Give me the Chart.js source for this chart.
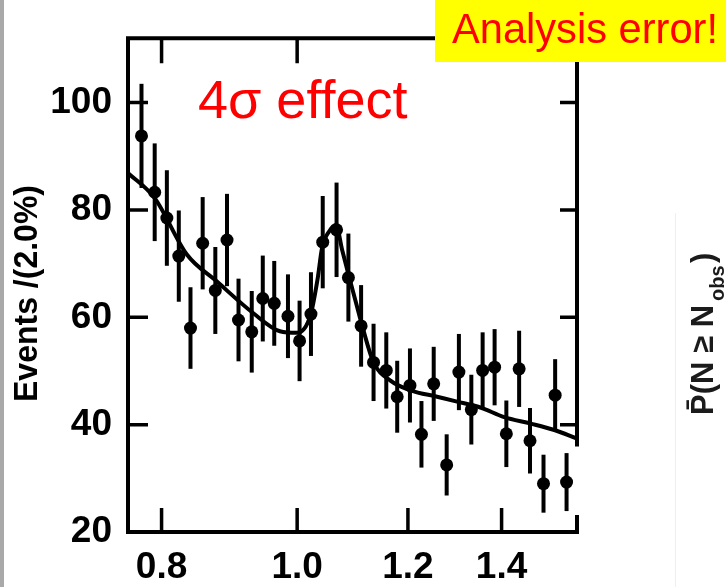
<!DOCTYPE html>
<html><head><meta charset="utf-8">
<script src="https://cdn.jsdelivr.net/npm/chart.js@4/dist/chart.umd.min.js"></script>
<style>html,body{margin:0;padding:0;background:#fff;overflow:hidden}canvas{display:block}</style>
</head><body>
<canvas id="c" width="726" height="587"></canvas>
<script>
// ---- data ----
const xTickValues = [0.8, 1.0, 1.2, 1.4];
const yTickValues = [20, 40, 60, 80, 100];
const sideTickValues = [40, 60, 80, 100];
const topTickValues = [0.8, 1.0];
const massBins = [0.774, 0.791, 0.807, 0.823, 0.839, 0.856, 0.874, 0.891, 0.908, 0.928,
  0.945, 0.963, 0.985, 1.004, 1.023, 1.043, 1.067, 1.088, 1.111, 1.134,
  1.158, 1.179, 1.204, 1.227, 1.252, 1.279, 1.305, 1.332, 1.357, 1.384,
  1.411, 1.441, 1.467, 1.500, 1.529, 1.558];
const events = [93.8, 83.3, 78.5, 71.4, 58.0, 73.8, 65.0, 74.4, 59.5, 57.3,
  63.5, 62.6, 60.2, 55.6, 60.6, 74.0, 76.3, 67.4, 58.4, 51.6,
  50.1, 45.2, 47.3, 38.2, 47.6, 32.5, 49.8, 42.8, 50.1, 50.7,
  38.3, 50.4, 37.0, 29.0, 45.5, 29.3];
const errors = [9.7, 9.1, 8.9, 8.5, 7.6, 8.6, 8.1, 8.6, 7.7, 7.6,
  8.0, 7.9, 7.8, 7.5, 7.8, 8.6, 8.8, 8.2, 7.6, 7.2,
  7.1, 6.7, 6.9, 6.2, 6.9, 5.7, 7.1, 6.5, 7.1, 7.1,
  6.2, 7.1, 6.1, 5.4, 6.7, 5.4];
const fitMass = [0.757, 0.791, 0.834, 0.876, 0.930, 0.972, 1.000, 1.022, 1.034, 1.042,
  1.054, 1.066, 1.077, 1.088, 1.101, 1.113, 1.134, 1.166, 1.205, 1.259,
  1.301, 1.352, 1.406, 1.469, 1.527, 1.585];
const fitEvents = [86.9, 82.2, 71.7, 66.7, 60.8, 57.4, 57.1, 60.3, 67.0, 73.0,
  76.0, 77.2, 72.5, 68.0, 63.0, 58.4, 51.6, 48.2, 46.4, 45.2,
  44.3, 43.2, 41.4, 40.2, 39.0, 37.4];
const annotation = "4σ effect";
const bannerText = "Analysis error!";
const yTitle = "Events /(2.0%)";

const tickFont = {family: "'Liberation Sans', Arial, sans-serif", size: 37, weight: 'bold'};

const decor = {
  id: 'decor',
  beforeDraw(chart) {
    const ctx = chart.ctx;
    ctx.save();
    ctx.fillStyle = '#fff';
    ctx.fillRect(0, 0, chart.width, chart.height);
    ctx.fillStyle = '#a9a9a9';
    ctx.fillRect(0, 0, 4, chart.height);
    ctx.strokeStyle = '#efefef';
    ctx.lineWidth = 1;
    ctx.beginPath(); ctx.moveTo(675.5, 213); ctx.lineTo(675.5, 587); ctx.stroke();
    ctx.restore();
  },
  beforeDatasetsDraw(chart) {
    const ctx = chart.ctx, xs = chart.scales.x, ys = chart.scales.y;
    ctx.save();
    ctx.strokeStyle = '#000';
    ctx.lineWidth = 4;
    ctx.lineCap = 'butt';
    massBins.forEach((m, i) => {
      const px = xs.getPixelForValue(m);
      ctx.beginPath();
      ctx.moveTo(px, ys.getPixelForValue(events[i] + errors[i]));
      ctx.lineTo(px, ys.getPixelForValue(events[i] - errors[i]));
      ctx.stroke();
    });
    ctx.restore();
  },
  afterDraw(chart) {
    const ctx = chart.ctx, xs = chart.scales.x, ys = chart.scales.y, a = chart.chartArea;
    ctx.save();
    ctx.strokeStyle = '#000';
    ctx.lineWidth = 4;
    ctx.lineCap = 'square';
    ctx.beginPath();
    ctx.moveTo(a.left, a.top); ctx.lineTo(a.left, a.bottom); ctx.lineTo(a.right, a.bottom);
    ctx.moveTo(a.left, a.top); ctx.lineTo(a.right, a.top); ctx.lineTo(a.right, ys.getPixelForValue(36.3));
    ctx.moveTo(a.right, ys.getPixelForValue(22.8)); ctx.lineTo(a.right, a.bottom);
    ctx.stroke();
    ctx.lineWidth = 3.5;
    ctx.lineCap = 'butt';
    ctx.beginPath();
    sideTickValues.forEach(v => {
      const py = ys.getPixelForValue(v);
      ctx.moveTo(a.left, py); ctx.lineTo(a.left + 20, py);
      ctx.moveTo(a.right, py); ctx.lineTo(a.right - 17, py);
    });
    xTickValues.forEach(v => {
      const px = xs.getPixelForValue(v);
      ctx.moveTo(px, a.bottom); ctx.lineTo(px, a.bottom - 24);
    });
    topTickValues.forEach(v => {
      const px = xs.getPixelForValue(v);
      ctx.moveTo(px, a.top); ctx.lineTo(px, a.top + 25);
    });
    ctx.stroke();

    // y title
    ctx.save();
    ctx.translate(37, 402);
    ctx.rotate(-Math.PI / 2);
    ctx.fillStyle = '#000';
    ctx.font = "bold 33px 'Liberation Sans', Arial, sans-serif";
    ctx.textAlign = 'left'; ctx.textBaseline = 'alphabetic';
    ctx.fillText(yTitle, 0, 0, 217);
    ctx.restore();

    // red annotation
    ctx.fillStyle = '#ff0000';
    ctx.font = "54px 'Liberation Sans', Arial, sans-serif";
    ctx.textAlign = 'left'; ctx.textBaseline = 'alphabetic';
    ctx.fillText(annotation, 198, 118, 210);

    // yellow banner
    ctx.fillStyle = '#ffff00';
    ctx.fillRect(435, 0, 291, 62);
    ctx.fillStyle = '#ff0000';
    ctx.font = "43px 'Liberation Sans', Arial, sans-serif";
    ctx.fillText(bannerText, 452, 43, 266);

    // right-side partial label
    ctx.save();
    ctx.translate(713, 415);
    ctx.rotate(-Math.PI / 2);
    ctx.fillStyle = '#1b1b1b';
    ctx.font = "bold 31px 'Liberation Sans', Arial, sans-serif";
    ctx.fillText("P\u0304(N \u2265 N", 0, 0, 112);
    ctx.font = "bold 20px 'Liberation Sans', Arial, sans-serif";
    ctx.fillText("obs", 114, 11);
    ctx.font = "bold 31px 'Liberation Sans', Arial, sans-serif";
    ctx.fillText(")", 152, 0);
    ctx.restore();
    ctx.restore();
  }
};

new Chart(document.getElementById('c'), {
  type: 'scatter',
  data: {
    datasets: [
      {
        type: 'line',
        data: fitMass.map((m, i) => ({x: m, y: fitEvents[i]})),
        borderColor: '#000', borderWidth: 4, pointRadius: 0,
        cubicInterpolationMode: 'monotone', fill: false, order: 2
      },
      {
        type: 'scatter',
        data: massBins.map((m, i) => ({x: m, y: events[i]})),
        backgroundColor: '#000', borderColor: '#000', borderWidth: 0,
        pointRadius: 6.5, pointStyle: 'circle', order: 1
      }
    ]
  },
  options: {
    responsive: false, animation: false, devicePixelRatio: 1,
    layout: {padding: {left: 0, top: 30, right: 149, bottom: 0}},
    plugins: {legend: {display: false}, tooltip: {enabled: false}},
    scales: {
      x: {
        type: 'logarithmic', min: 0.757, max: 1.585,
        afterBuildTicks: s => { s.ticks = xTickValues.map(v => ({value: v})); },
        afterFit: s => { s.height = 55; },
        ticks: {callback: v => Number(v).toFixed(1), font: tickFont, color: '#000', padding: 14, maxRotation: 0, autoSkip: false},
        grid: {display: false, drawTicks: false}, border: {display: false}
      },
      y: {
        type: 'linear', min: 20, max: 112,
        afterBuildTicks: s => { s.ticks = yTickValues.map(v => ({value: v})); },
        afterFit: s => { s.width = 128; },
        ticks: {font: tickFont, color: '#000', padding: 16, autoSkip: false},
        grid: {display: false, drawTicks: false}, border: {display: false}
      }
    }
  },
  plugins: [decor]
});
</script>
</body></html>
